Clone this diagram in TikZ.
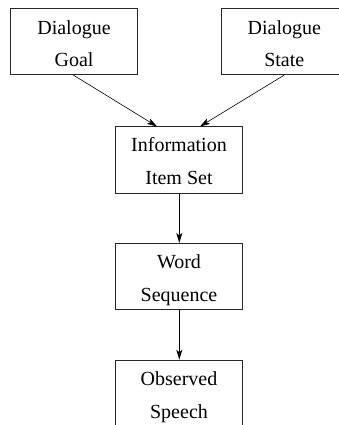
\documentclass[tikz,border=0pt]{standalone}
\usepackage{fontspec}
\setmainfont{Liberation Serif}
\usetikzlibrary{arrows.meta}
\tikzset{
  box/.style={draw=black!85, line width=0.6pt, minimum width=127pt, minimum height=66.5pt, inner sep=0pt},
  lbl/.style={font=\fontsize{20}{24}\selectfont, inner sep=0pt, anchor=base},
  conn/.style={line width=0.6pt, -{Stealth[length=10pt,width=6pt,inset=2.5pt]}},
  vconn/.style={conn, line width=0.9pt}
}
\begin{document}
\begin{tikzpicture}[x=1pt,y=-1pt]
\useasboundingbox (0,0) rectangle (338,425);
\node[box] (goal) at (74,41.5) {};
\node[box] (state) at (284.3,41.5) {};
\node[box] (info) at (179,160) {};
\node[box] (word) at (179,276.5) {};
\node[box] (obs) at (179,393.3) {};
\node[lbl] (g1) at ([yshift=-26.5pt]goal.north) {Dialogue};
\node[lbl] (g2) at ([yshift=-59pt]goal.north) {Goal};
\node[lbl] (s1) at ([yshift=-26.5pt]state.north) {Dialogue};
\node[lbl] (s2) at ([yshift=-59pt]state.north) {State};
\node[lbl] (i1) at ([yshift=-25.5pt]info.north) {Information};
\node[lbl] (i2) at ([yshift=-58pt]info.north) {Item Set};
\node[lbl] (w1) at ([yshift=-26pt]word.north) {Word};
\node[lbl] (w2) at ([yshift=-58.5pt]word.north) {Sequence};
\node[lbl] (o1) at ([yshift=-26pt]obs.north) {Observed};
\node[lbl] (o2) at ([yshift=-58.5pt]obs.north) {Speech};
\draw[conn] ([xshift=-0.7pt]goal.south) -- ([xshift=-22pt]info.north);
\draw[conn] (state.south) -- ([xshift=21pt]info.north);
\draw[vconn] ([xshift=0.3pt]info.south) -- ([xshift=0.3pt]word.north);
\draw[vconn] ([xshift=0.3pt]word.south) -- ([xshift=0.3pt]obs.north);
\end{tikzpicture}
\end{document}
